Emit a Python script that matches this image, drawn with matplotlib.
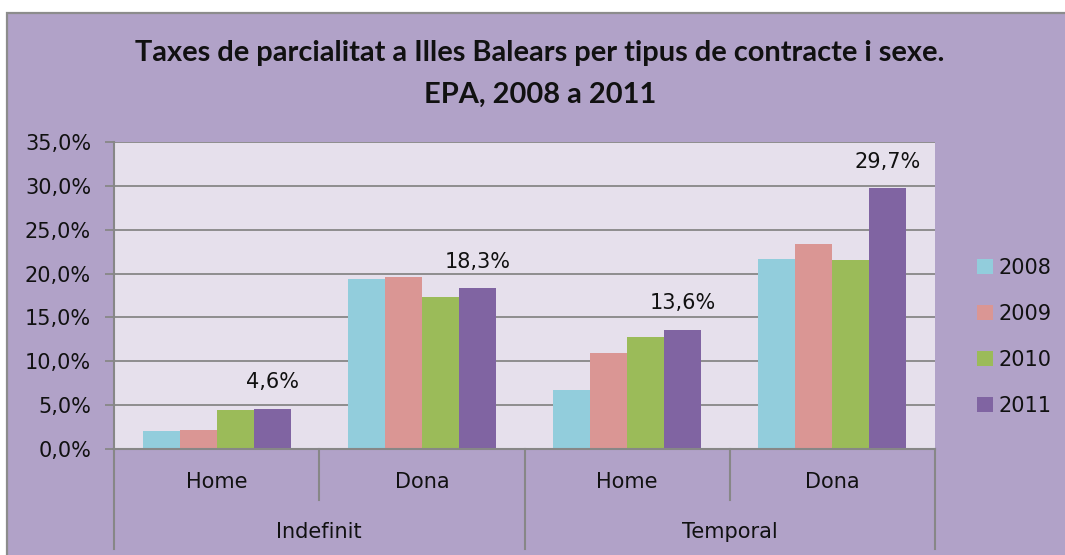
import matplotlib
matplotlib.use("Agg")
import matplotlib.pyplot as plt
import numpy as np
from matplotlib.patches import Rectangle, Patch
from matplotlib.ticker import FuncFormatter, MultipleLocator
import matplotlib.transforms as mtransforms

# ---- data ----
groups = ["Indefinit", "Temporal"]
sexes = ["Home", "Dona", "Home", "Dona"]
years = ["2008", "2009", "2010", "2011"]
v2008 = [2.0, 19.4, 6.7, 21.7]
v2009 = [2.2, 19.6, 10.9, 23.4]
v2010 = [4.4, 17.3, 12.8, 21.5]
v2011 = [4.6, 18.3, 13.6, 29.7]
title_lines = ["Taxes de parcialitat a Illes Balears per tipus de contracte i sexe.",
               "EPA, 2008 a 2011"]

series = [v2008, v2009, v2010, v2011]
colors = ["#92CDDC", "#DA9694", "#9BBB59", "#8064A2"]
BG = "#B1A2C8"
PLOT_BG = "#E6E0EC"
GRID = "#878787"
TXT = "#111111"
FS = 15

W, H = 1065, 555
fig = plt.figure(figsize=(W / 100, H / 100), dpi=100)
fig.patch.set_facecolor("white")

# outer chart area
fig.patches.append(Rectangle((6.5 / W, -0.1), 1.2, 1.1 - 12.5 / H, transform=fig.transFigure,
                             facecolor=BG, edgecolor="#8C8C8C", linewidth=1.6, zorder=-10))

ax = fig.add_axes([114 / W, (H - 449) / H, (935 - 114) / W, (449 - 142) / H])
ax.set_zorder(1)
ax.set_facecolor(PLOT_BG)

x = np.arange(len(sexes))
bw = 0.18
for i, (vals, c, yr) in enumerate(zip(series, colors, years)):
    off = (i - 1.5) * bw
    bars = ax.bar(x + off, vals, width=bw, color=c, label=yr, zorder=3)
    if yr == "2011":
        for b, v in zip(bars, vals):
            ax.annotate(f"{v:.1f}%".replace(".", ","),
                        (b.get_x() + b.get_width() / 2, b.get_height()),
                        xytext=(0, 15), textcoords="offset points",
                        ha="center", va="baseline", fontsize=FS, color=TXT,
                        zorder=4)

ax.set_xlim(-0.5, 3.5)
ax.set_ylim(0, 35)
ax.yaxis.set_major_locator(MultipleLocator(5))
ax.yaxis.set_major_formatter(FuncFormatter(lambda v, p: f"{v:.1f}%".replace(".", ",")))
ax.grid(axis="y", color=GRID, linewidth=1.3, zorder=1)
ax.set_axisbelow(True)
ax.tick_params(axis="y", direction="out", length=6.5, width=1.3, color=GRID,
               labelsize=FS, pad=10, labelcolor=TXT)
ax.tick_params(axis="x", length=0, labelbottom=False)
for s in ["top", "right"]:
    ax.spines[s].set_visible(False)
for s in ["left", "bottom"]:
    ax.spines[s].set_color(GRID)
    ax.spines[s].set_linewidth(1.5)
ax.spines["bottom"].set_zorder(5)

# multi-level category axis
trans = mtransforms.blended_transform_factory(ax.transData, ax.transAxes)
ah = 449 - 142
short_y = -(500 - 449) / ah
long_y = -(549 - 449) / ah
for xb, yb in zip([-0.5, 0.5, 1.5, 2.5, 3.5], [long_y, short_y, long_y, short_y, long_y]):
    ax.plot([xb, xb], [0, yb], transform=trans, color=GRID, linewidth=1.5, clip_on=False)
for xi, s in zip(x, sexes):
    ax.text(xi, -(482 - 449) / ah, s, transform=trans, ha="center", va="center",
            fontsize=FS, color=TXT)
for gi, g in enumerate(groups):
    ax.text(0.5 + 2 * gi, -(532 - 449) / ah, g, transform=trans, ha="center", va="center",
            fontsize=FS, color=TXT)

# legend
handles = [Patch(facecolor=c, edgecolor="none") for c in colors]
fig.legend(handles, years, loc="center left", bbox_to_anchor=(977 / W, 1 - 337 / H),
           frameon=False, prop={"size": 15, "family": "DejaVu Sans"},
           handlelength=0.75, handleheight=0.75,
           handletextpad=0.3, labelspacing=1.25, borderpad=0, borderaxespad=0,
           labelcolor=TXT)

# title, auto-fit width
t1 = fig.text(540 / W, 1 - 53 / H, title_lines[0], ha="center", va="center",
              fontsize=17, fontweight="bold", color=TXT, family=["Lato", "DejaVu Sans"])
t2 = fig.text(540 / W, 1 - 95 / H, title_lines[1], ha="center", va="center",
              fontsize=17, fontweight="bold", color=TXT, family=["Lato", "DejaVu Sans"])
r = fig.canvas.get_renderer()
wpx = t1.get_window_extent(r).width
fs = 17 * 810 / wpx
t1.set_fontsize(fs)
t2.set_fontsize(fs)

fig.savefig("out.png", dpi=100, facecolor=fig.get_facecolor())
